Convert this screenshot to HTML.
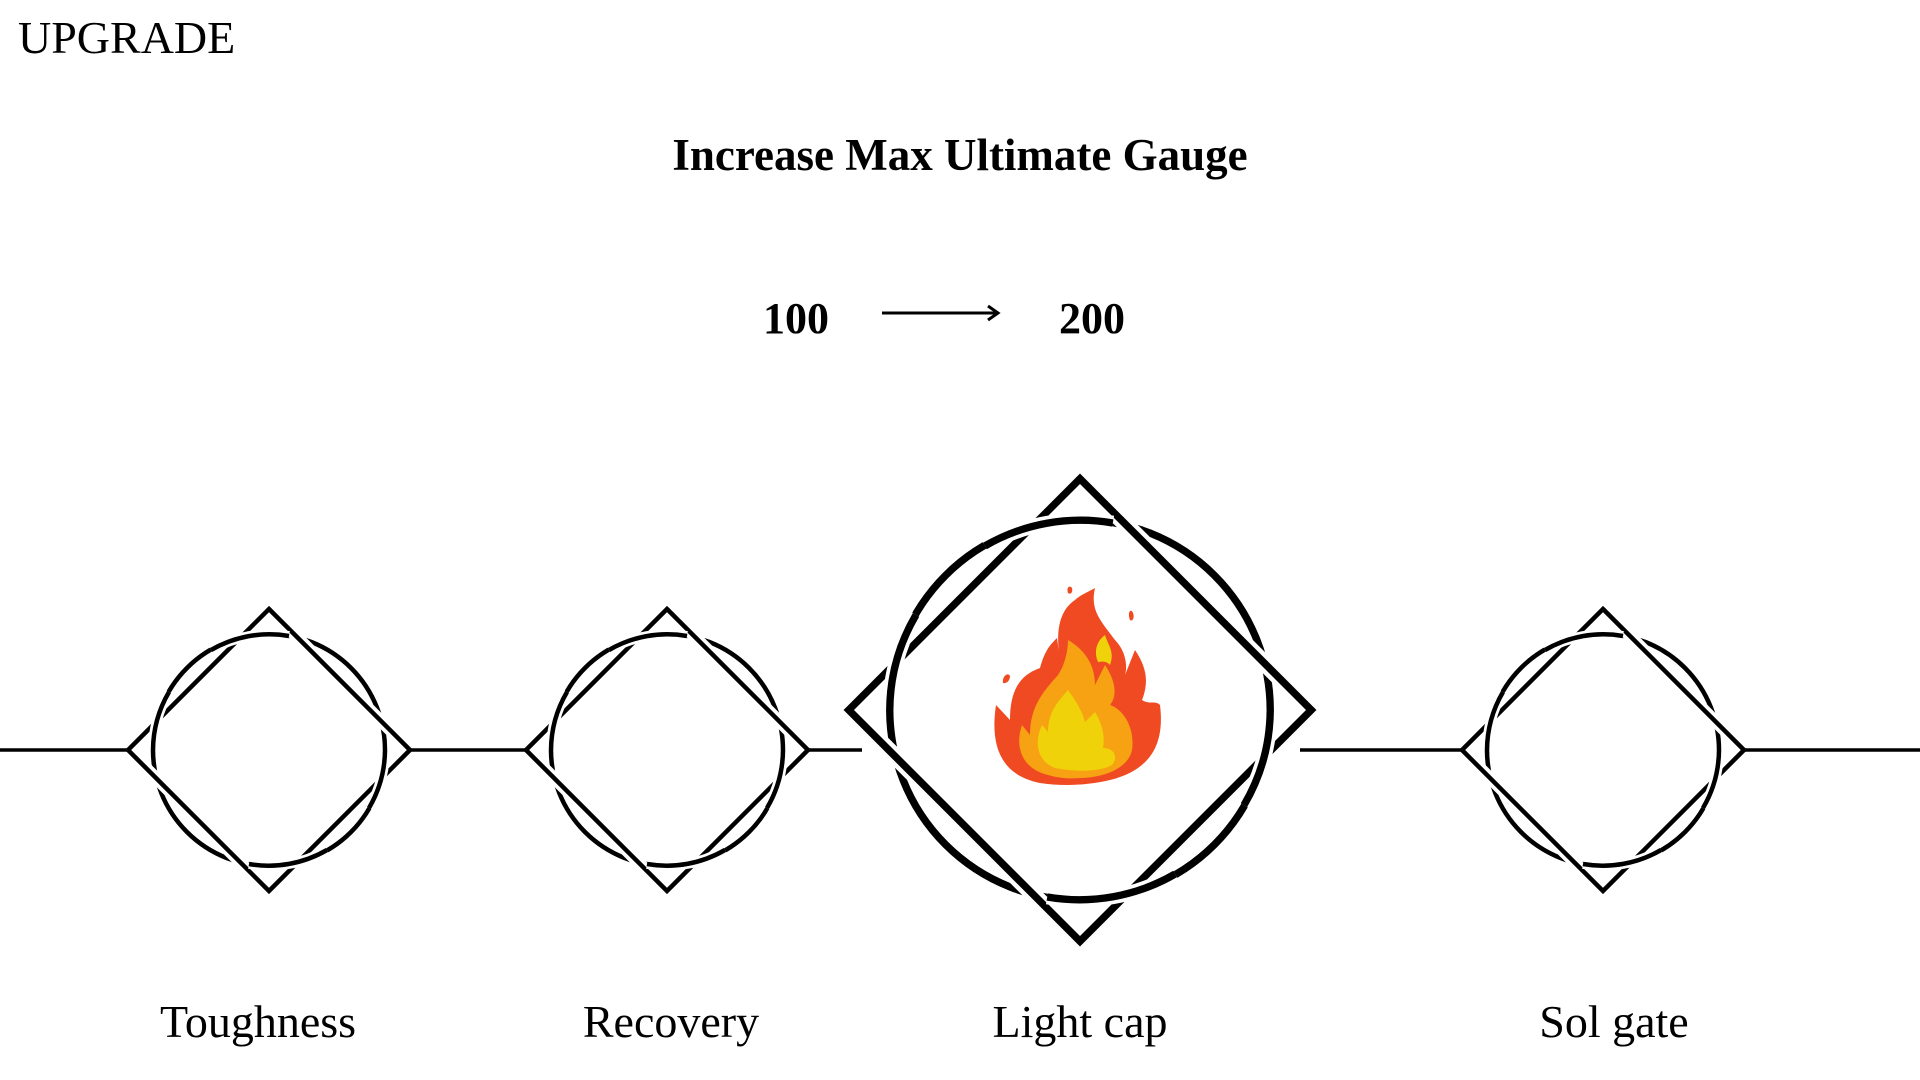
<!DOCTYPE html>
<html><head><meta charset="utf-8"><style>
html,body{margin:0;padding:0;background:#fff;width:1920px;height:1080px;overflow:hidden}
svg{position:absolute;left:0;top:0}
text{font-family:"Liberation Serif",serif;fill:#000}
</style></head><body>
<svg width="1920" height="1080" viewBox="0 0 1920 1080">
<text x="18" y="53" font-size="46">UPGRADE</text>
<text x="960" y="170" font-size="45" font-weight="bold" text-anchor="middle">Increase Max Ultimate Gauge</text>
<text x="796" y="333" font-size="44" font-weight="bold" text-anchor="middle">100</text>
<text x="1092" y="333" font-size="44" font-weight="bold" text-anchor="middle">200</text>
<line x1="882" y1="313" x2="996" y2="313" stroke="#000" stroke-width="3"/>
<path d="M988 306 L998 313 L988 320" fill="none" stroke="#000" stroke-width="3"/>
<defs>
<g id="node">
<circle cx="0" cy="0" r="116" fill="none" stroke="#000" stroke-width="4.5"/>
<path d="M0 -141 L141 0 L0 141 L-141 0 Z" fill="none" stroke="#fff" stroke-width="12"/>
<path d="M0 -141 L141 0 L0 141 L-141 0 Z" fill="none" stroke="#000" stroke-width="4.5"/>
<path d="M-116 0 A116 116 0 0 1 -100 -58" fill="none" stroke="#fff" stroke-width="10"/>
<path d="M-116 0 A116 116 0 0 1 -100 -58" fill="none" stroke="#000" stroke-width="4.5"/>
<path d="M116 0 A116 116 0 0 1 100 58" fill="none" stroke="#fff" stroke-width="10"/>
<path d="M116 0 A116 116 0 0 1 100 58" fill="none" stroke="#000" stroke-width="4.5"/>
<path d="M-58 -100 A116 116 0 0 1 20 -114" fill="none" stroke="#fff" stroke-width="10"/>
<path d="M-58 -100 A116 116 0 0 1 20 -114" fill="none" stroke="#000" stroke-width="4.5"/>
<path d="M58 100 A116 116 0 0 1 -20 114" fill="none" stroke="#fff" stroke-width="10"/>
<path d="M58 100 A116 116 0 0 1 -20 114" fill="none" stroke="#000" stroke-width="4.5"/>
</g>
</defs>
<use href="#node" x="269" y="750"/>
<use href="#node" x="667" y="750"/>
<use href="#node" x="1603" y="750"/>
<g transform="translate(1080,710) scale(1.64)">
<circle cx="0" cy="0" r="116" fill="none" stroke="#000" stroke-width="4.5"/>
<path d="M0 -141 L141 0 L0 141 L-141 0 Z" fill="none" stroke="#fff" stroke-width="10"/>
<path d="M0 -141 L141 0 L0 141 L-141 0 Z" fill="none" stroke="#000" stroke-width="4.5"/>
<path d="M-116 0 A116 116 0 0 1 -100 -58" fill="none" stroke="#fff" stroke-width="9"/>
<path d="M-116 0 A116 116 0 0 1 -100 -58" fill="none" stroke="#000" stroke-width="4.5"/>
<path d="M116 0 A116 116 0 0 1 100 58" fill="none" stroke="#fff" stroke-width="9"/>
<path d="M116 0 A116 116 0 0 1 100 58" fill="none" stroke="#000" stroke-width="4.5"/>
<path d="M-58 -100 A116 116 0 0 1 20 -114" fill="none" stroke="#fff" stroke-width="9"/>
<path d="M-58 -100 A116 116 0 0 1 20 -114" fill="none" stroke="#000" stroke-width="4.5"/>
<path d="M58 100 A116 116 0 0 1 -20 114" fill="none" stroke="#fff" stroke-width="9"/>
<path d="M58 100 A116 116 0 0 1 -20 114" fill="none" stroke="#000" stroke-width="4.5"/>
</g>
<!-- connectors -->
<g stroke="#000" stroke-width="3.5">
<line x1="0" y1="750" x2="128" y2="750"/>
<line x1="410" y1="750" x2="526" y2="750"/>
<line x1="808" y1="750" x2="862" y2="750"/>
<line x1="1300" y1="750" x2="1462" y2="750"/>
<line x1="1744" y1="750" x2="1920" y2="750"/>
</g>
<!-- flame -->
<g>
<path d="M1040 783 C1000 775 990 745 996 705 L1010 720 C1010 690 1020 675 1040 668 C1045 650 1050 645 1057 638 L1060 660 C1055 630 1060 610 1075 600 C1080 595 1092 590 1095 588 C1090 610 1100 620 1115 640 C1125 650 1128 665 1125 675 L1135 650 C1145 665 1150 680 1142 700 C1150 705 1155 700 1160 705 C1165 745 1150 770 1110 780 C1085 786 1060 786 1040 783 Z" fill="#f04a23"/>
<path d="M1048 775 C1020 768 1015 745 1022 725 L1030 735 C1030 705 1045 690 1058 675 C1065 665 1068 650 1068 640 C1085 650 1095 665 1095 685 L1105 665 C1115 680 1118 695 1110 705 C1125 710 1135 730 1132 750 C1128 770 1100 778 1080 778 C1068 779 1058 778 1048 775 Z" fill="#f7a212"/>
<path d="M1055 768 C1035 760 1035 740 1042 725 L1048 732 C1048 710 1060 700 1068 690 C1075 700 1082 710 1085 722 L1095 712 C1103 725 1105 738 1103 748 C1115 748 1118 758 1112 765 C1100 772 1075 772 1055 768 Z" fill="#f0d20a"/>
<path d="M1098 662 C1093 650 1098 640 1105 635 C1108 645 1115 652 1110 665 C1106 660 1100 662 1098 662 Z" fill="#f0d20a"/>
<path d="M1068 593 C1066 587 1070 585 1072 588 C1073 592 1071 595 1068 593 Z M1130 620 C1127 612 1131 608 1133 613 C1135 618 1132 622 1130 620 Z M1003 683 C1002 676 1008 672 1010 676 C1010 681 1006 684 1003 683 Z" fill="#f04a23"/>
</g>
<g font-size="46" text-anchor="middle">
<text x="258" y="1037">Toughness</text>
<text x="671" y="1037">Recovery</text>
<text x="1080" y="1037">Light cap</text>
<text x="1614" y="1037">Sol gate</text>
</g>
</svg>
</body></html>
